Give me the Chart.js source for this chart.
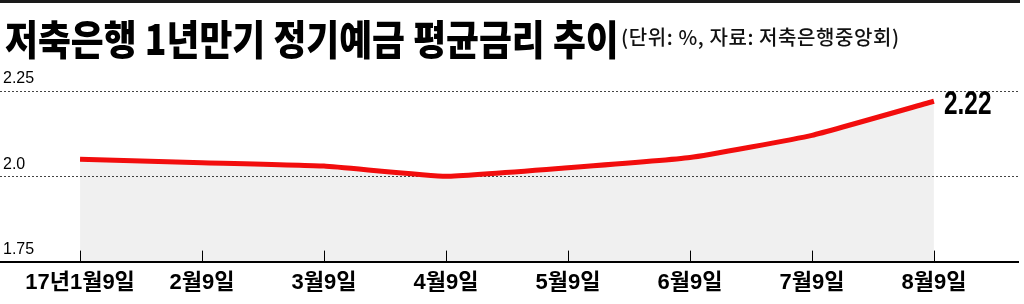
<!DOCTYPE html>
<html>
<head>
<meta charset="utf-8">
<script src="https://cdn.jsdelivr.net/npm/chart.js@4"></script>
<style>
  html, body { margin: 0; padding: 0; background: #fff; }
  #wrap { position: relative; width: 1024px; height: 304px; overflow: hidden; }
  #chart { position: absolute; left: 0; top: 0; }
  #topline { position: absolute; left: 0; top: 0; width: 1020px; height: 3px; background: #1a1a1a; }
  #title {
    position: absolute; left: 5px; top: 17px;
    font-family: "Noto Sans CJK KR", sans-serif; font-weight: 900;
    font-size: 41px; line-height: 41px; white-space: nowrap; color: #000;
    transform: scaleX(0.872); transform-origin: left top;
  }
  #sub {
    position: absolute; left: 621px; top: 27px;
    font-family: "Noto Sans CJK KR", sans-serif; font-weight: 500;
    font-size: 20px; line-height: 20px; letter-spacing: 0.6px; white-space: nowrap; color: #111;
  }
</style>
</head>
<body>
<div id="wrap">
  <canvas id="chart" width="1024" height="304"></canvas>
  <div id="topline"></div>
  <div id="title">저축은행 1년만기 정기예금 평균금리 추이</div>
  <div id="sub">(단위: %, 자료: 저축은행중앙회)</div>
</div>
<script>
// data
const months = ['17년1월9일', '2월9일', '3월9일', '4월9일', '5월9일', '6월9일', '7월9일', '8월9일'];
const rates = [2.05, 2.04, 2.03, 2.00, 2.025, 2.055, 2.12, 2.22];
const yTicks = [1.75, 2.0, 2.25];
const yTickLabels = ['1.75', '2.0', '2.25'];
const lastLabel = '2.22';

// short tick marks standing up from the x axis
const tickMarks = {
  id: 'tickMarks',
  afterDraw(chart) {
    const {ctx, chartArea, scales} = chart;
    ctx.save();
    ctx.strokeStyle = '#000';
    ctx.lineWidth = 1;
    months.forEach((m, i) => {
      const x = Math.round(scales.x.getPixelForValue(i)) + 0.5;
      ctx.beginPath();
      ctx.moveTo(x, chartArea.bottom - 11);
      ctx.lineTo(x, chartArea.bottom);
      ctx.stroke();
    });
    ctx.restore();
  }
};

// value label next to the last point
const endLabel = {
  id: 'endLabel',
  afterDatasetsDraw(chart) {
    const pt = chart.getDatasetMeta(0).data[rates.length - 1];
    const ctx = chart.ctx;
    ctx.save();
    ctx.translate(pt.x + 10, pt.y + 4);
    ctx.scale(0.74, 1);
    ctx.fillStyle = '#000';
    ctx.font = '600 33px "Liberation Sans", Arial, sans-serif';
    ctx.textAlign = 'left';
    ctx.textBaseline = 'middle';
    ctx.fillText(lastLabel, 0, 0);
    ctx.restore();
  }
};

new Chart(document.getElementById('chart'), {
  type: 'line',
  data: {
    datasets: [{
      data: rates.map((v, i) => ({x: i, y: v})),
      borderColor: '#f20d0d',
      borderWidth: 5,
      backgroundColor: 'rgba(0,0,0,0.06)',
      fill: 'start',
      pointRadius: 0,
      tension: 0.12
    }]
  },
  options: {
    responsive: false,
    animation: false,
    layout: { padding: { top: 91, right: 6, bottom: 0, left: 0 } },
    plugins: { legend: { display: false }, tooltip: { enabled: false } },
    scales: {
      x: {
        type: 'linear',
        min: -0.656,
        max: 7.689,
        grid: { drawOnChartArea: false, drawTicks: false },
        border: { display: true, color: '#000', width: 2 },
        ticks: {
          stepSize: 1,
          includeBounds: false,
          autoSkip: false,
          maxRotation: 0,
          padding: 8,
          color: '#000',
          font: { family: '"Liberation Sans", "Noto Sans CJK KR", sans-serif', size: 22, weight: 'bold' },
          callback: v => months[v] ?? ''
        }
      },
      y: {
        min: 1.75,
        max: 2.25,
        afterBuildTicks: s => { s.ticks = yTicks.map(v => ({value: v})); },
        afterFit: s => { s.width = 0; },
        grid: { color: '#444', lineWidth: 1, drawTicks: false },
        border: { display: false, dash: [2, 2] },
        ticks: {
          mirror: true,
          padding: 3,
          labelOffset: -12,
          color: '#000',
          font: { family: '"Liberation Sans", Arial, sans-serif', size: 16 },
          callback: v => yTickLabels[yTicks.indexOf(v)]
        }
      }
    }
  },
  plugins: [tickMarks, endLabel]
});
</script>
</body>
</html>
